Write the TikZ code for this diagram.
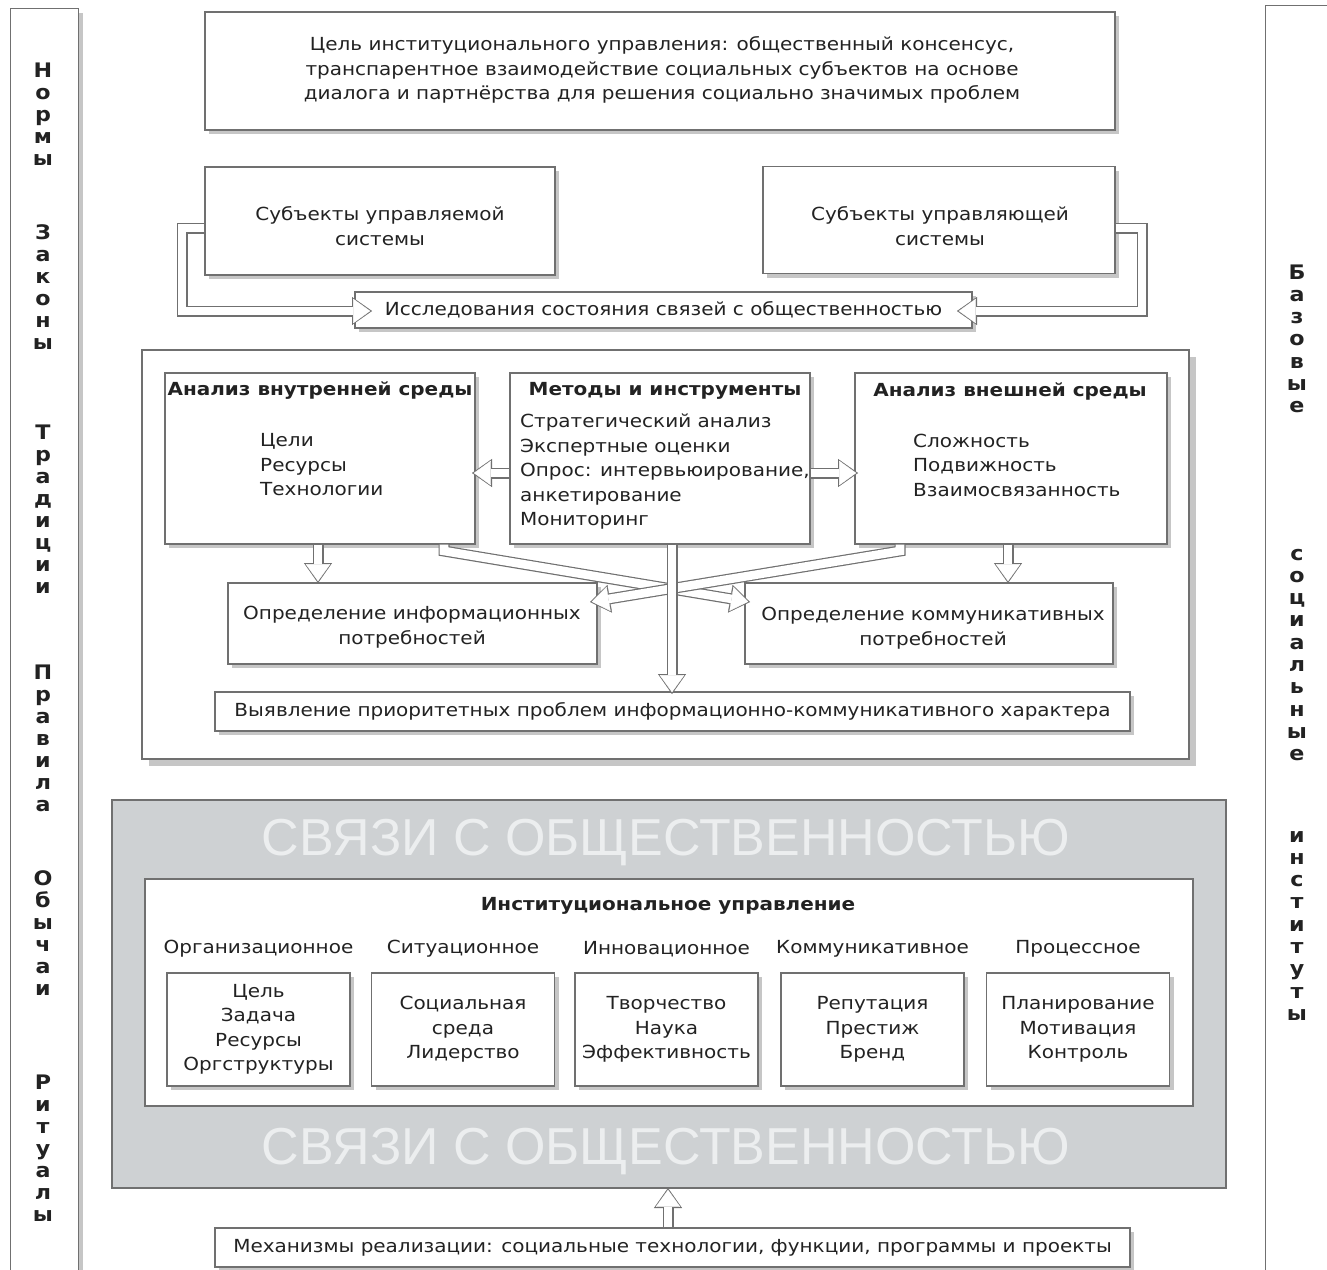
\documentclass[tikz,border=0pt]{standalone}
\usepackage{fontspec}
\setmainfont{DejaVu Sans}[FakeStretch=1.11]
\newfontfamily\bannerfont{Liberation Sans}
\usepackage{tikz}
\usetikzlibrary{arrows.meta,shadows}

\definecolor{edge}{HTML}{707070}
\definecolor{ink}{HTML}{222222}
\definecolor{shade}{HTML}{C6C6C6}
\definecolor{panel}{HTML}{CED1D3}
\definecolor{banner}{HTML}{ECEEEF}

\tikzset{
  box/.style={draw=edge, fill=white, line width=1.1pt},
  sh/.style={drop shadow={shadow xshift=#1, shadow yshift=-#1, fill=shade, opacity=1}},
  sh/.default=4pt,
  txt/.style={text=ink, inner sep=0pt, font=\fontsize{18}{24.5}\selectfont},
  ttl/.style={text=ink, inner sep=0pt, font=\bfseries\fontsize{18}{24.5}\selectfont},
  letter/.style={text=ink, inner sep=0pt, anchor=base, font=\bfseries\fontsize{20}{22}\selectfont},
  hollowout/.style={draw=edge, line width=11pt, line join=miter,
    -{Triangle[length=20pt,width=28pt,line width=0.3pt]}},
  hollowin/.style={draw=white, line width=8.6pt, line join=miter, shorten >=1.8pt,
    -{Triangle[length=17pt,width=24.4pt,line width=0.3pt]}},
}
\newcommand{\hollow}[1]{\draw[hollowout] #1; \draw[hollowin] #1;}

\begin{document}
\begin{tikzpicture}[x=1pt, y=-1pt]
\useasboundingbox (0,0) rectangle (1327,1269);

% side columns
\node[box, sh, anchor=north west, minimum width=68pt, minimum height=1300pt] (leftcol) at (10,8) {};
\node[box, sh, anchor=north west, minimum width=100pt, minimum height=1300pt] (rightcol) at (1265,5) {};
\foreach \word/\ytop in {{Н,о,р,м,ы}/70, {З,а,к,о,н,ы}/232, {Т,р,а,д,и,ц,и,и}/432, {П,р,а,в,и,л,а}/672, {О,б,ы,ч,а,и}/878, {Р,и,т,у,а,л,ы}/1082}
  \foreach \ch [count=\i] in \word
    \node[letter] (left-\ytop-\i) at (43,\ytop+7+22*\i-22) {\ch};
\foreach \word/\ytop in {{Б,а,з,о,в,ы,е}/272, {с,о,ц,и,а,л,ь,н,ы,е}/553, {и,н,с,т,и,т,у,т,ы}/835}
  \foreach \ch [count=\i] in \word
    \node[letter] (right-\ytop-\i) at (1297,\ytop+7+22.3*\i-22.3) {\ch};

% goal and subjects
\node[box, sh, minimum width=910pt, minimum height=118pt] (goal) at (660,71) {};
\node[txt, align=center] (goaltext) at (662,70) {Цель институционального управления: общественный консенсус,\\транспарентное взаимодействие социальных субъектов на основе\\диалога и партнёрства для решения социально значимых проблем};

\node[box, sh, minimum width=350pt, minimum height=108pt] (managed) at (380,221) {};
\node[txt, align=center] (managedtext) at (380,226) {Субъекты управляемой\\системы};
\node[box, sh, minimum width=352pt, minimum height=107pt] (managing) at (939,220) {};
\node[txt, align=center] (managingtext) at (940,226) {Субъекты управляющей\\системы};

\node[box, sh, minimum width=617pt, minimum height=36pt, txt] (survey) at (663.5,310) {Исследования состояния связей с общественностью};

\hollow{(managed.west |- 0,228) -- (182,228) -- (182,311) -- (372,311)}
\hollow{(managing.east |- 0,228) -- (1142,228) -- (1142,311) -- (957,311)}

% analysis frame
\node[box, sh=7pt, minimum width=1047pt, minimum height=409pt] (frame) at (665.5,554.5) {};

\node[box, sh, minimum width=310pt, minimum height=171pt] (inner) at (320,458.5) {};
\node[ttl] (innertitle) at (320,391) {Анализ внутренней среды};
\node[txt, align=left, anchor=west] (innerlist) at (260,465) {Цели\\Ресурсы\\Технологии};

\node[box, sh, minimum width=300pt, minimum height=171pt] (methods) at (660,458.5) {};
\node[ttl] (methodstitle) at (665,391) {Методы и инструменты};
\node[txt, align=left, anchor=west] (methodslist) at (520,472) {Стратегический анализ\\Экспертные оценки\\Опрос: интервьюирование,\\анкетирование\\Мониторинг};

\node[box, sh, minimum width=312pt, minimum height=171pt] (outer) at (1011,458.5) {};
\node[ttl] (outertitle) at (1010,391) {Анализ внешней среды};
\node[txt, align=left, anchor=west] (outerlist) at (913,465) {Сложность\\Подвижность\\Взаимосвязанность};

\node[box, sh, minimum width=369pt, minimum height=81pt] (info) at (412.5,623.5) {};
\node[txt, align=center] (infotext) at (412,627) {Определение информационных\\потребностей};
\node[box, sh, minimum width=368pt, minimum height=81pt] (comm) at (929,623.5) {};
\node[txt, align=center] (commtext) at (933,628) {Определение коммуникативных\\потребностей};

\node[box, sh, minimum width=915pt, minimum height=39pt, txt] (priority) at (672.5,711.5) {Выявление приоритетных проблем информационно-коммуникативного характера};

\hollow{(methods.west |- 0,473) -- (472,473)}
\hollow{(methods.east |- 0,473) -- (858,473)}
\hollow{(inner.south -| 318,0) -- (318,583)}
\hollow{(outer.south -| 1008,0) -- (1008,583)}
\hollow{(inner.south -| 444,0) -- (444,551) -- (750,602)}
\hollow{(outer.south -| 900,0) -- (900,551) -- (590,602)}
\hollow{(methods.south -| 672,0) -- (672,694)}

% public relations panel
\node[box, fill=panel, minimum width=1114pt, minimum height=388pt] (panel) at (669,994) {};
\node[text=banner, inner sep=0pt, font=\bannerfont\fontsize{52}{52}\selectfont] (bannertop) at (666,843) {СВЯЗИ С ОБЩЕСТВЕННОСТЬЮ};
\node[text=banner, inner sep=0pt, font=\bannerfont\fontsize{52}{52}\selectfont] (bannerbottom) at (666,1152) {СВЯЗИ С ОБЩЕСТВЕННОСТЬЮ};

\node[box, minimum width=1048pt, minimum height=227pt] (inst) at (669,992.5) {};
\node[ttl] (insttitle) at (668,906) {Институциональное управление};
\foreach \cx/\head/\items [count=\k] in {
    258.5/Организационное/{Цель\\Задача\\Ресурсы\\Оргструктуры},
    463/Ситуационное/{Социальная\\среда\\Лидерство},
    666.5/Инновационное/{Творчество\\Наука\\Эффективность},
    872.5/Коммуникативное/{Репутация\\Престиж\\Бренд},
    1078/Процессное/{Планирование\\Мотивация\\Контроль}} {
  \node[txt] (head\k) at (\cx,949) {\head};
  \node[box, sh, txt, align=center, minimum width=183pt, minimum height=113pt] (kind\k) at (\cx,1029.5) {\items};
}

% mechanisms
\node[box, sh, minimum width=915pt, minimum height=39pt, txt] (mech) at (672.5,1247.5) {Механизмы реализации: социальные технологии, функции, программы и проекты};
\hollow{(mech.north -| 668,0) -- (668,1188)}
\end{tikzpicture}
\end{document}
